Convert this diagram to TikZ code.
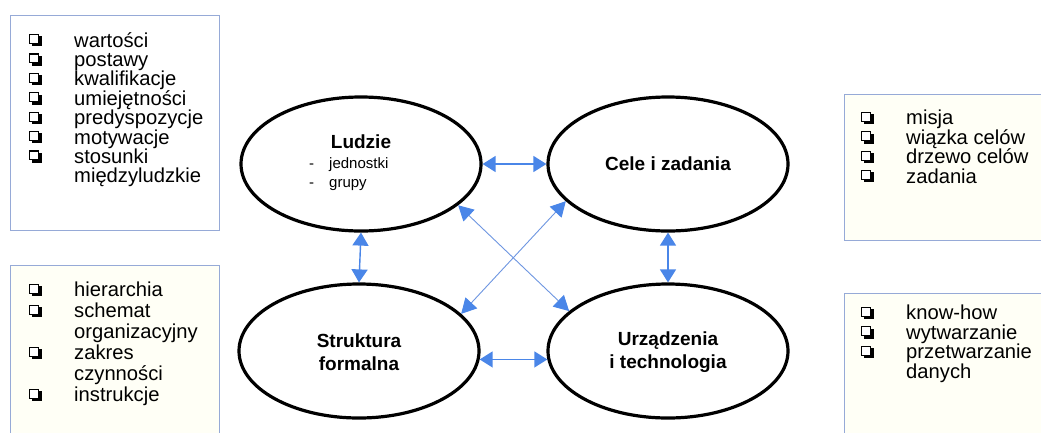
\documentclass[tikz,border=0pt]{standalone}
\usepackage{fontspec}
\setmainfont{Liberation Sans}
\usetikzlibrary{arrows.meta,shapes.geometric}
\definecolor{arrowblue}{RGB}{74,134,232}
\definecolor{diagblue}{RGB}{110,150,225}
\definecolor{boxline}{RGB}{150,170,215}
\definecolor{cream}{RGB}{255,255,246}
% shadowed square bullet built from rules
\newcommand{\bx}{\raisebox{3pt}{%
  \makebox[0pt][l]{\hspace{2.4pt}\raisebox{-2.4pt}{\rule{10pt}{10pt}}}%
  \makebox[0pt][l]{\rule{10pt}{10pt}}%
  \makebox[0pt][l]{\hspace{1.1pt}\raisebox{1.1pt}{\color{white}\rule{7.8pt}{7.8pt}}}}}
\newcommand{\li}[1]{\makebox[45pt][l]{\bx}#1}
\newcommand{\lc}[1]{\hspace*{45pt}#1}
\tikzset{
  listbox/.style={draw=boxline, line width=1pt, inner sep=0pt},
  listtext/.style={inner sep=0pt, align=left, anchor=north west},
  ell/.style={ellipse, draw=black, line width=3.2pt, inner sep=0pt,
              minimum width=240pt, minimum height=134pt},
  title/.style={inner sep=0pt, align=center, font=\bfseries\fontsize{19}{23}\selectfont},
  sub/.style={inner sep=0pt, anchor=west, font=\fontsize{15}{17}\selectfont},
  arr/.style={draw=arrowblue, fill=arrowblue, line width=1.4pt,
              {Triangle[length=13pt,width=16pt]}-{Triangle[length=13pt,width=16pt]}},
  darr/.style={draw=diagblue, line width=0.9pt,
               {Triangle[length=15pt,width=16pt,fill=arrowblue,color=arrowblue]}-{Triangle[length=15pt,width=16pt,fill=arrowblue,color=arrowblue]}},
}
\begin{document}
\begin{tikzpicture}[x=1pt,y=-1pt]
\useasboundingbox (0,0) rectangle (1041,432);
\fill[white] (0,0) rectangle (1041,432);

% list boxes
\node[listbox, fill=white, minimum width=209pt, minimum height=215pt] (b1) at (114.5,122.5) {};
\node[listbox, fill=cream, minimum width=209pt, minimum height=180pt] (b2) at (114.5,355) {};
\node[listbox, fill=cream, minimum width=210pt, minimum height=146pt] (b3) at (949,167) {};
\node[listbox, fill=cream, minimum width=210pt, minimum height=160pt] (b4) at (949,373) {};

\node[listtext, font=\fontsize{20.2}{19.4}\selectfont] (t1) at (29,32) {%
\li{wartości}\\ \li{postawy}\\ \li{kwalifikacje}\\ \li{umiejętności}\\
\li{predyspozycje}\\ \li{motywacje}\\ \li{stosunki}\\ \lc{międzyludzkie}};

\node[listtext, font=\fontsize{20.2}{21}\selectfont] (t2) at (29,282) {%
\li{hierarchia}\\ \li{schemat}\\ \lc{organizacyjny}\\ \li{zakres}\\
\lc{czynności}\\ \li{instrukcje}};

\node[listtext, font=\fontsize{20.2}{19.4}\selectfont] (t3) at (861,110) {%
\li{misja}\\ \li{wiązka celów}\\ \li{drzewo celów}\\ \li{zadania}};

\node[listtext, font=\fontsize{20.2}{19.4}\selectfont] (t4) at (861,305) {%
\li{know-how}\\ \li{wytwarzanie}\\ \li{przetwarzanie}\\ \lc{danych}};

% ellipses
\node[ell] (lud) at (361,164) {};
\node[ell] (cel) at (668,164) {};
\node[ell] (str) at (359,351) {};
\node[ell] (urz) at (668,351) {};

\node[title] (ludt) at (361,142) {Ludzie};
\node[sub] (lud1) at (309,165) {\makebox[20pt][l]{-}jednostki};
\node[sub] (lud2) at (309,185) {\makebox[20pt][l]{-}grupy};
\node[title] (celt) at (668,164) {Cele i zadania};
\node[title] (strt) at (359,352) {Struktura\\formalna};
\node[title] (urzt) at (668,352) {Urządzenia\\i technologia};

% connectors
\draw[arr] (lud.east) -- (cel.west);
\draw[arr] (str.-4) -- (urz.184);
\draw[arr] (lud.south) -- (str.north);
\draw[arr] (cel.south) -- (urz.north);
\draw[darr] (lud.-23) -- (urz.158);
\draw[darr] (cel.-160) -- (str.20);
\end{tikzpicture}
\end{document}
